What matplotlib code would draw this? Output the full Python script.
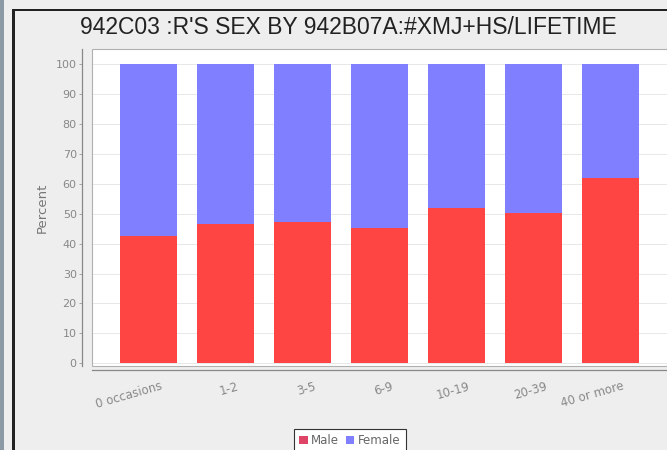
import matplotlib
matplotlib.use('Agg')
import matplotlib.pyplot as plt
import matplotlib.transforms as mtransforms
from matplotlib.patches import Rectangle, Patch
import numpy as np

categories = ['0 occasions', '1-2', '3-5', '6-9', '10-19', '20-39', '40 or more']
male = [42.5, 46.5, 47.1, 45.2, 51.9, 50.3, 61.8]
female = [100 - m for m in male]

W, H = 667, 450
fig = plt.figure(figsize=(W / 100, H / 100), dpi=100)
fig.patch.set_facecolor('#eeeeee')

# window frame bits on the left / top
fig.patches.append(Rectangle((0, 0), 4 / W, 1, transform=fig.transFigure,
                             facecolor='#8c9aa6', edgecolor='none'))
fig.patches.append(Rectangle((12 / W, 0), 3 / W, 1 - 9 / H, transform=fig.transFigure,
                             facecolor='#222222', edgecolor='none'))
fig.patches.append(Rectangle((12 / W, 1 - 11 / H), 1, 2.5 / H, transform=fig.transFigure,
                             facecolor='#222222', edgecolor='none'))

ax = fig.add_axes([92 / W, 1 - 366 / H, 576 / W, 317 / H])
ax.set_facecolor('white')

x = np.arange(len(categories))
ax.bar(x, male, width=0.74, color='#ff4444', label='Male', zorder=3)
ax.bar(x, female, width=0.74, bottom=male, color='#7f7fff', label='Female', zorder=3)

ax.set_xlim(-0.735, 6.74)
ax.set_ylim(-0.9, 105)
ax.set_yticks(range(0, 101, 10))
ax.yaxis.grid(True, color='#e4e4e4', lw=0.6, zorder=0)

for s in ['top', 'right']:
    ax.spines[s].set_visible(False)
ax.spines['left'].set_position(('outward', 7))
ax.spines['bottom'].set_position(('outward', 3))
for s in ['left', 'bottom']:
    ax.spines[s].set_color('#888888')
    ax.spines[s].set_linewidth(0.9)
# plot outline
ax.add_patch(Rectangle((0, 0), 1, 1, transform=ax.transAxes, fill=False,
                       edgecolor='#b0b0b0', lw=0.8, clip_on=False, zorder=5))

ax.tick_params(axis='y', labelsize=8, colors='#999999', labelcolor='#888888',
               length=2, width=0.6, pad=2)
ax.tick_params(axis='x', length=0, pad=7)
ax.set_xticks(x)
ax.set_xticklabels(categories, rotation=16, ha='right', rotation_mode='anchor',
                   fontsize=8.5, color='#888888')
shift = mtransforms.ScaledTranslation(11 / 100, 0, fig.dpi_scale_trans)
for lbl in ax.get_xticklabels():
    lbl.set_transform(lbl.get_transform() + shift)
ax.set_ylabel('Percent', fontsize=9.5, color='#777777', labelpad=5)

fig.text(0.523, 1 - 27 / H, "942C03 :R'S SEX BY 942B07A:#XMJ+HS/LIFETIME",
         ha='center', va='center', fontsize=16.5, color='#222222', family='Liberation Sans')

handles = [Patch(facecolor='#dd4466', edgecolor='none', label='Male'),
           Patch(facecolor='#7f7fff', edgecolor='none', label='Female')]
leg = fig.legend(handles=handles, loc='upper center', bbox_to_anchor=(350 / W, 1 - 423 / H),
                 ncol=2, fontsize=8.5, frameon=True, fancybox=False, framealpha=1,
                 edgecolor='#333333', handlelength=0.7, handleheight=0.7,
                 handletextpad=0.3, columnspacing=0.6, borderpad=0.45)
leg.get_frame().set_linewidth(0.8)
for t in leg.get_texts():
    t.set_color('#666666')

fig.savefig('out.png', dpi=100, facecolor=fig.get_facecolor())
